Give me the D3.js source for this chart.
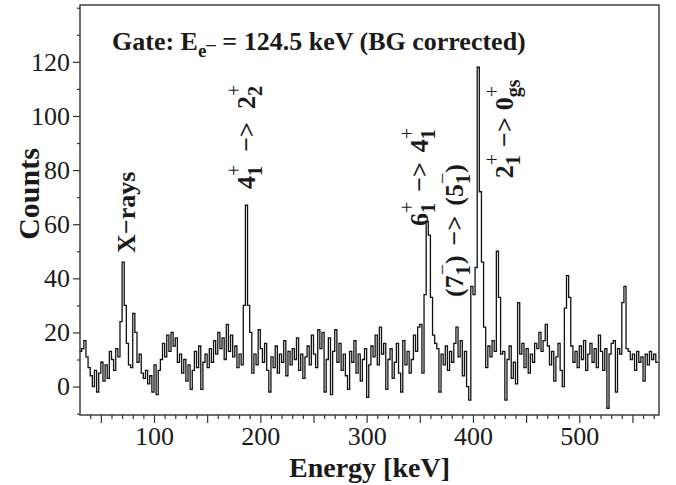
<!DOCTYPE html>
<html><head><meta charset="utf-8">
<script src="https://cdn.jsdelivr.net/npm/d3@7"></script>
<style>body{margin:0;background:#fff} svg{display:block} text{font-family:"Liberation Serif","Times New Roman",serif;fill:#1a1a1a}</style>
</head><body><svg id="c" width="676" height="485"></svg>
<script>
// Histogram: first bin edge (keV) and bin width (keV)
const binStart = 30;
const binWidth = 2;
// Counts per bin
const counts = [
 13,14,17,11,7,4,0,6,-2,5,
 9,2,8,3,13,10,6,14,11,24,
 46,30,16,8,7,27,20,9,12,5,
 3,6,1,4,-2,8,-3,6,10,16,
 11,19,13,20,15,18,9,12,5,10,
 2,8,-1,6,13,7,15,-1,9,12,
 7,14,9,17,12,20,14,18,10,23,
 13,19,11,15,7,12,8,30,67,30,
 20,5,12,8,21,14,9,16,6,-2,
 11,7,15,5,12,9,17,4,13,8,
 14,10,18,6,12,3,11,15,8,19,
 12,7,21,14,20,-2,10,18,-3,13,
 21,9,16,6,12,4,-1,13,9,17,
 5,12,2,10,14,-4,8,15,11,19,
 8,22,12,16,-1,10,14,3,9,16,
 5,-2,17,8,13,5,10,19,13,22,
 23,5,34,61,56,33,19,16,14,-2,
 12,8,15,6,13,9,16,22,11,17,
 4,13,0,-5,37,34,44,118,72,46,
 22,7,15,11,17,13,50,33,12,13,
 -5,10,15,3,9,1,31,12,16,7,
 14,5,12,9,16,14,20,13,17,23,
 15,8,13,2,11,16,6,0,29,41,
 33,15,9,13,7,15,10,17,6,12,
 16,9,14,7,19,13,6,14,-8,12,
 16,17,-2,14,12,31,37,14,13,10,
 12,6,13,9,11,2,12,8,13,10,
 12,9
];
const xTicksMajor = [50,100,150,200,250,300,350,400,450,500,550];
const xTickLabels = [100,200,300,400,500];
const yTicksMajor = [0,20,40,60,80,100,120];
const xDomain = [30.4, 575];
const yDomain = [-10.5, 141];

// Peak annotations: anchor in data coords (keV at text baseline, counts at text start)
const annotations = [
 {e:82, c:49.4, segs:[{t:"X\u2212rays"}]},
 {e:195, c:73, segs:[{t:"4"},{sup:"+",sub:"1"},{gap:13},{t:"\u2212>"},{gap:13},{t:"2"},{sup:"+",sub:"2"}]},
 {e:357.7, c:59.3, segs:[{t:"6"},{sup:"+",sub:"1"},{gap:10},{t:"\u2212>"},{gap:10},{t:"4"},{sup:"+",sub:"1"}]},
 {e:390.6, c:33.1, segs:[{t:"(7"},{sup:"\u2212",sub:"1"},{t:")"},{gap:10},{t:"\u2212>"},{gap:10},{t:"(5"},{sup:"\u2212",sub:"1"},{t:")"}]},
 {e:437.6, c:77, segs:[{t:"2"},{sup:"+",sub:"1"},{gap:7},{t:"\u2212>"},{gap:7},{t:"0"},{sup:"+",sub:"gs"}]}
];

const svg = d3.select("#c");
const L = 80, R = 659, T = 5, B = 415;
const x = d3.scaleLinear().domain(xDomain).range([L, R]);
const y = d3.scaleLinear().domain(yDomain).range([B, T]);

// spectrum
const pts = counts.map((v,i)=>[binStart+i*binWidth, v]);
pts.push([binStart+counts.length*binWidth, counts[counts.length-1]]);
const line = d3.line().x(d=>x(d[0])).y(d=>y(d[1])).curve(d3.curveStepAfter);
svg.append("path").datum(pts).attr("d", line).attr("fill","none").attr("stroke","#111").attr("stroke-width",1.3);

// axes
const fsTick = 26;
const xMinor = d3.range(40, 575, 10).filter(v=>!xTicksMajor.includes(v));
svg.append("g").attr("transform",`translate(0,${B})`)
  .call(d3.axisBottom(x).tickValues(xMinor).tickSize(4).tickFormat(""))
  .call(g=>g.select(".domain").remove());
svg.append("g").attr("transform",`translate(0,${B})`)
  .call(d3.axisBottom(x).tickValues(xTicksMajor).tickSize(8).tickPadding(4)
     .tickFormat(d=>xTickLabels.includes(d)?d:""))
  .call(g=>g.select(".domain").remove())
  .call(g=>g.selectAll("text").style("font-size",fsTick+"px").style("font-family","Liberation Serif").attr("fill","#1a1a1a"));
const yMinor = d3.range(-10, 141, 10).filter(v=>!yTicksMajor.includes(v));
svg.append("g").attr("transform",`translate(${L},0)`)
  .call(d3.axisLeft(y).tickValues(yMinor).tickSize(3).tickFormat(""))
  .call(g=>g.select(".domain").remove());
svg.append("g").attr("transform",`translate(${L},0)`)
  .call(d3.axisLeft(y).tickValues(yTicksMajor).tickSize(7).tickPadding(3))
  .call(g=>g.select(".domain").remove())
  .call(g=>g.selectAll("text").style("font-size",fsTick+"px").style("font-family","Liberation Serif").attr("fill","#1a1a1a"));
svg.selectAll(".tick line").attr("stroke","#333").attr("stroke-width",1.2);

// frame
svg.append("rect").attr("x",L).attr("y",T).attr("width",R-L).attr("height",B-T)
  .attr("fill","none").attr("stroke","#333").attr("stroke-width",1.4);

// axis titles
svg.append("text").attr("x",(L+R)/2).attr("y",477).attr("text-anchor","middle")
  .style("font-size","28px").style("font-weight","bold").text("Energy [keV]");
svg.append("text").attr("transform","translate(39,194) rotate(-90)").attr("text-anchor","middle")
  .style("font-size","30px").style("font-weight","bold").text("Counts");

// title
const title = svg.append("text").attr("x",112).attr("y",50).style("font-size","26px").style("font-weight","bold");
title.append("tspan").text("Gate: E");
title.append("tspan").attr("dy",7).style("font-size","19px").text("e");
title.append("tspan").attr("dy",-7).style("font-size","19px").text("\u2013");
title.append("tspan").text(" = 124.5 keV (BG corrected)");

// rich rotated labels
function richLabel(a){
  const fs = 26, sf = 20;
  const g = svg.append("g").attr("transform",`translate(${x(a.e)},${y(a.c)}) rotate(-90)`)
    .style("font-weight","bold");
  let cx = 0;
  a.segs.forEach(s=>{
    if (s.gap !== undefined){ cx += s.gap; }
    else if (s.t !== undefined){
      const t = g.append("text").attr("x",cx).attr("y",0).style("font-size",fs+"px").text(s.t);
      cx += t.node().getComputedTextLength();
    } else {
      let w = 0;
      const t1 = g.append("text").attr("x",cx).attr("y",-fs*0.52).style("font-size",sf+"px").style("font-weight","normal").text(s.sup);
      w = Math.max(w, t1.node().getComputedTextLength());
      const t2 = g.append("text").attr("x",cx).attr("y",fs*0.28).style("font-size",sf+"px").text(s.sub);
      w = Math.max(w, t2.node().getComputedTextLength());
      cx += w;
    }
  });
}
annotations.forEach(richLabel);
</script></body></html>
